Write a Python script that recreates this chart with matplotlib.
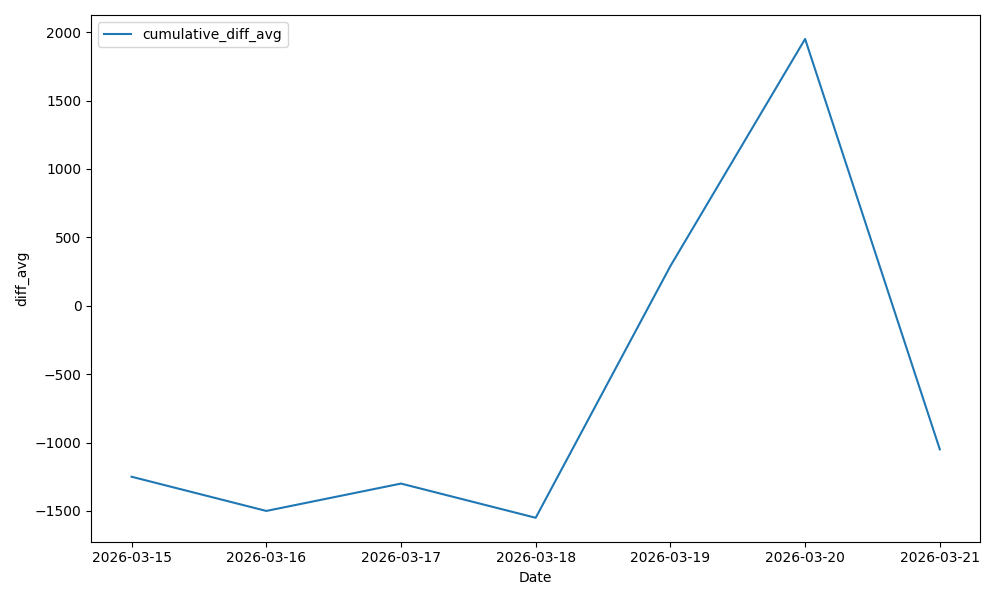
import matplotlib
matplotlib.use("Agg")
import matplotlib.pyplot as plt
import pandas as pd

dates = ["2026-03-15", "2026-03-16", "2026-03-17", "2026-03-18",
         "2026-03-19", "2026-03-20", "2026-03-21"]
cumulative_diff_avg = [-1250, -1500, -1300, -1550, 290, 1950, -1050]

x = pd.to_datetime(dates)

fig, ax = plt.subplots(figsize=(10, 6), dpi=100)
ax.plot(x, cumulative_diff_avg, label="cumulative_diff_avg")
ax.set_xticks(x)
ax.set_xticklabels(dates)
ax.set_xlabel("Date")
ax.set_ylabel("diff_avg")
ax.legend(loc="upper left")
plt.tight_layout()
plt.savefig("out.png")
